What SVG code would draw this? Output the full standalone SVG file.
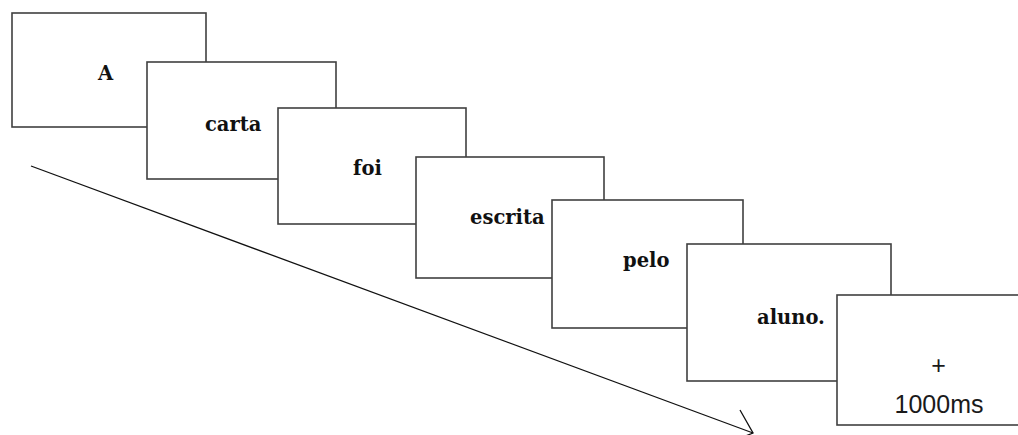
<svg xmlns="http://www.w3.org/2000/svg" width="1018" height="435" viewBox="0 0 1018 435">
<style>
.box{fill:#fff;stroke:#404040;stroke-width:1.6}
.w{font-family:"DejaVu Serif","Liberation Serif",serif;font-weight:bold;font-size:19.5px;fill:#111}
.s{font-family:"Liberation Sans",Arial,sans-serif;font-size:25px;fill:#1a1a1a}
.conn{fill:none;stroke:#111;stroke-width:1.3}
</style>
<rect width="1018" height="435" fill="#fff"/>
<g id="connectors">
<path class="conn" d="M31,166 L753,433"/>
<path class="conn" d="M740,410 L753,433 L728,443"/>
</g>
<g id="n1"><rect class="box" x="12" y="13" width="194" height="114"/><text class="w" x="98" y="80">A</text></g>
<g id="n2"><rect class="box" x="147" y="62" width="189" height="117"/><text class="w" x="205" y="131">carta</text></g>
<g id="n3"><rect class="box" x="278" y="108" width="188" height="116"/><text class="w" x="353" y="175">foi</text></g>
<g id="n4"><rect class="box" x="416" y="157" width="188" height="121"/><text class="w" x="470" y="224">escrita</text></g>
<g id="n5"><rect class="box" x="552" y="200" width="191" height="128"/><text class="w" x="623" y="267">pelo</text></g>
<g id="n6"><rect class="box" x="687" y="244" width="204" height="137"/><text class="w" x="757" y="324">aluno.</text></g>
<g id="n7"><rect class="box" x="837" y="295" width="210" height="130"/><text class="s" x="938.5" y="374" text-anchor="middle">+</text><text class="s" x="939" y="413" text-anchor="middle">1000ms</text></g>
</svg>
